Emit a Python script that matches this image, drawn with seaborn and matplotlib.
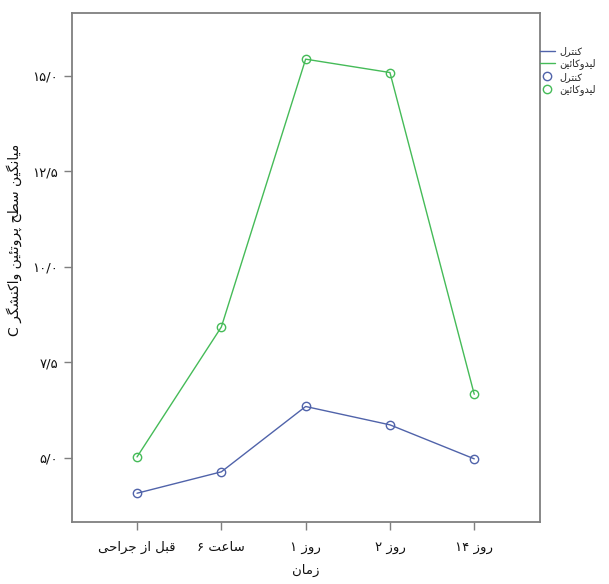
import numpy as np
import pandas as pd
import matplotlib
matplotlib.use("Agg")
import matplotlib.pyplot as plt
from matplotlib.lines import Line2D
import seaborn as sns

sns.set_style("white")
plt.rcParams["font.family"] = ["DejaVu Sans"]

# Data
times = ["قبل از جراحی", "ساعت ۶", "روز ۱", "روز ۲", "روز ۱۴"]
groups = ["کنترل", "لیدوکائین"]
control = [4.07, 4.63, 6.34, 5.86, 4.97]
lidocaine = [5.02, 8.42, 15.43, 15.08, 6.66]
ytick_vals = [5.0, 7.5, 10.0, 12.5, 15.0]
ytick_labels = ["۵/۰", "۷/۵", "۱۰/۰", "۱۲/۵", "۱۵/۰"]
ylabel = "میانگین سطح پروتئین واکنشگر C"
xlabel = "زمان"
colors = {"کنترل": "#5063aa", "لیدوکائین": "#45bb58"}

# Persian letters -> presentation forms (iso, fin[, ini, med])
FORMS = {
    "ا": ("\uFE8D", "\uFE8E"),
    "د": ("\uFEA9", "\uFEAA"),
    "ر": ("\uFEAD", "\uFEAE"),
    "ز": ("\uFEAF", "\uFEB0"),
    "و": ("\uFEED", "\uFEEE"),
    "ب": ("\uFE8F", "\uFE90", "\uFE91", "\uFE92"),
    "ت": ("\uFE95", "\uFE96", "\uFE97", "\uFE98"),
    "ج": ("\uFE9D", "\uFE9E", "\uFE9F", "\uFEA0"),
    "ح": ("\uFEA1", "\uFEA2", "\uFEA3", "\uFEA4"),
    "س": ("\uFEB1", "\uFEB2", "\uFEB3", "\uFEB4"),
    "ش": ("\uFEB5", "\uFEB6", "\uFEB7", "\uFEB8"),
    "ط": ("\uFEC1", "\uFEC2", "\uFEC3", "\uFEC4"),
    "ع": ("\uFEC9", "\uFECA", "\uFECB", "\uFECC"),
    "ق": ("\uFED5", "\uFED6", "\uFED7", "\uFED8"),
    "ل": ("\uFEDD", "\uFEDE", "\uFEDF", "\uFEE0"),
    "م": ("\uFEE1", "\uFEE2", "\uFEE3", "\uFEE4"),
    "ن": ("\uFEE5", "\uFEE6", "\uFEE7", "\uFEE8"),
    "ئ": ("\uFE89", "\uFE8A", "\uFE8B", "\uFE8C"),
    "پ": ("\uFB56", "\uFB57", "\uFB58", "\uFB59"),
    "ک": ("\uFB8E", "\uFB8F", "\uFB90", "\uFB91"),
    "گ": ("\uFB92", "\uFB93", "\uFB94", "\uFB95"),
    "ی": ("\uFBFC", "\uFBFD", "\uFBFE", "\uFBFF"),
}


def shape_word(w):
    if not any(c in FORMS for c in w):
        return w
    out = []
    for i, ch in enumerate(w):
        f = FORMS.get(ch)
        if f is None:
            out.append(ch)
            continue
        prev = w[i - 1] if i > 0 else ""
        nxt = w[i + 1] if i + 1 < len(w) else ""
        jp = prev in FORMS and len(FORMS[prev]) == 4
        jn = len(f) == 4 and nxt in FORMS
        out.append(f[3] if jp and jn else f[1] if jp else f[2] if jn else f[0])
    return "".join(reversed(out))


def fa(text):
    # right-to-left: reverse word order, shape each word
    return " ".join(shape_word(w) for w in reversed(text.split(" ")))


df = pd.DataFrame({
    "pos": list(range(len(times))) * 2,
    "value": control + lidocaine,
    "group": [groups[0]] * len(times) + [groups[1]] * len(times),
})

fig = plt.figure(figsize=(6.09, 5.84), dpi=100)
ax = fig.add_axes([71.7 / 609, 1 - 521.7 / 584, (540 - 71.7) / 609, (521.7 - 13.3) / 584])

for g in groups:
    sns.lineplot(data=df[df["group"] == g], x="pos", y="value", color=colors[g],
                 linewidth=1.0, marker="o", markersize=6, markerfacecolor="none",
                 markeredgecolor=colors[g], markeredgewidth=1.0, ax=ax, legend=False)

ax.set_xlim(-0.775, 4.78)
ax.set_ylim(3.325, 16.63)
ax.set_xticks(range(len(times)))
ax.set_xticklabels([fa(t) for t in times], fontsize=9.5, color="#111111")
ax.set_yticks(ytick_vals)
ax.set_yticklabels(ytick_labels, fontsize=9.5, color="#111111")
ax.set_xlabel("")
ax.set_ylabel("")
ax.tick_params(axis="x", direction="out", length=6, width=1, color="#7f7f7f", pad=8,
               bottom=True)
ax.tick_params(axis="y", direction="out", length=6, width=1, color="#7f7f7f", pad=4,
               left=True)
for s in ax.spines.values():
    s.set_color("#7f7f7f")
    s.set_linewidth(1.3)

fig.text(14 / 609, 1 - 240 / 584, fa(ylabel), rotation=90, ha="center", va="center",
         fontsize=10, color="#111111")
fig.text(306 / 609, 1 - 570 / 584, fa(xlabel), ha="center", va="center",
         fontsize=9.5, color="#111111")

handles = [Line2D([], [], color=colors[g], lw=1.0) for g in groups] + \
          [Line2D([], [], color=colors[g], lw=0, marker="o", markersize=6,
                  markerfacecolor="none", markeredgewidth=1.0) for g in groups]
labels = [fa(g) for g in groups] * 2
fig.legend(handles, labels, loc="upper left", bbox_to_anchor=(540 / 609, 1 - 46 / 584),
           frameon=False, fontsize=7, handlelength=1.5, handletextpad=0.5,
           labelspacing=0.25, borderaxespad=0, borderpad=0)

fig.savefig("out.png", dpi=100)
